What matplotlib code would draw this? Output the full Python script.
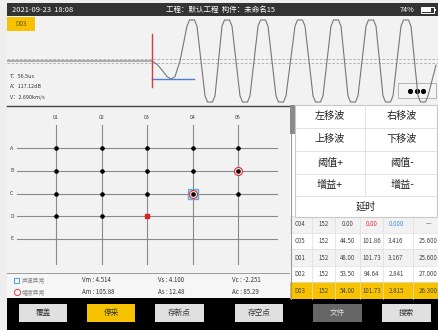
import matplotlib
matplotlib.use("Agg")
import matplotlib.pyplot as plt
from matplotlib.patches import Rectangle

plt.rcParams['font.family'] = ['Noto Sans CJK SC', 'DejaVu Sans']

W, H = 438, 330

# Waveform (x in screen samples, amplitude normalised to the clip level)
wave_x = [7, 152, 157, 162, 167, 171, 175, 180, 187, 189.5, 194.5, 197,
          205, 207.5, 212.5, 215, 222, 224.5, 229.5, 232,
          240, 242.5, 247.5, 250, 258, 260.5, 265.5, 268,
          276, 278.5, 283.5, 286, 295, 297.5, 302.5, 305,
          313, 315.5, 320.5, 323, 331, 333.5, 338.5, 341,
          348, 350.5, 355.5, 358, 366, 368.5, 373.5, 376,
          383, 385.5, 390.5, 393, 401, 403.5, 408.5, 411,
          418, 420.5, 425.5, 428, 436]
wave_amp = [0, 0, -0.08, -0.22, -0.38, -0.44, -0.38, 0.0, 0.85, 1, 1, 0.85,
            -0.85, -1, -1, -0.85, 0.85, 1, 1, 0.85,
            -0.85, -1, -1, -0.85, 0.85, 1, 1, 0.85,
            -0.85, -1, -1, -0.85, 0.85, 1, 1, 0.85,
            -0.85, -1, -1, -0.85, 0.85, 1, 1, 0.85,
            -0.85, -1, -1, -0.85, 0.85, 1, 1, 0.85,
            -0.85, -1, -1, -0.85, 0.85, 1, 1, 0.85,
            -0.85, -1, -1, -0.85, -0.1]
trigger_x = 152
threshold_amp = -0.44
threshold_end = 194
noise_band = 0.05

# Test point grid
grid_cols = ['01', '02', '03', '04', '06']
grid_rows = ['A', 'B', 'C', 'D', 'E']
# 0 none, 1 normal, 2 current (red), 3 amplitude abnormal, 4 velocity + amplitude abnormal
grid_status = [[1, 1, 1, 1, 1],
               [1, 1, 1, 1, 3],
               [1, 1, 1, 4, 1],
               [1, 1, 2, 0, 0],
               [0, 0, 0, 0, 0]]

# Result table
tbl_name = ['C04', 'C05', 'D01', 'D02', 'D03']
tbl_dist = ['152', '152', '152', '152', '152']
tbl_t = ['0.00', '44.50', '48.00', '53.50', '54.00']
tbl_a = ['0.00', '101.86', '101.73', '94.64', '101.73']
tbl_v = ['0.000', '3.416', '3.167', '2.841', '2.815']
tbl_f = ['—', '25.600', '25.600', '27.000', '26.300']

menu_items = [('左移波', '右移波'), ('上移波', '下移波'), ('阈值+', '阈值-'), ('增益+', '增益-')]
buttons = ['覆盖', '停采', '存新点', '存空点', '文件', '搜索']
stats = [('Vm : 4.514', 'Am : 105.88'), ('Vs : 4.100', 'As : 12.48'), ('Vc : -2.251', 'Ac : 85.29')]

YELLOW = '#f7c300'


def box(x0, y0, x1, y1):
    return [x0 / W, 1 - y1 / H, (x1 - x0) / W, (y1 - y0) / H]


fig = plt.figure(figsize=(W / 100, H / 100), dpi=100)
bg = fig.add_axes([0, 0, 1, 1])
bg.set_xlim(0, W)
bg.set_ylim(H, 0)
bg.axis('off')


def rect(x0, y0, x1, y1, fc, ec='none', lw=0, z=1):
    bg.add_patch(Rectangle((x0, y0), x1 - x0, y1 - y0, facecolor=fc, edgecolor=ec, linewidth=lw, zorder=z))


# frame + panels
rect(0, 0, W, H, '#eeeeee', z=0)
rect(7, 3, W, 16, '#333333')
rect(7, 16, W, 105, '#f2f2f2')
rect(7, 105, 290, 272, '#f2f2f2')
rect(7, 272, 290, 298, '#f6f6f6')
bg.plot([7, W], [105.5, 105.5], color='#444444', lw=1, zorder=2)
bg.plot([7, 290], [273, 273], color='#999999', lw=0.7, zorder=2)
rect(290, 105, W, 299, '#ffffff')
rect(7, 298, W, H, '#000000', z=1)

# status bar
bg.text(12, 10, '2021-09-23  18:08', color='white', fontsize=5.4, va='center', zorder=3)
bg.text(220, 10, '工程：默认工程  构件：未命名15', color='white', fontsize=5.4, va='center',
        ha='center', zorder=3)
bg.text(414, 10, '74%', color='white', fontsize=5.2, va='center', ha='right', zorder=3)
rect(421, 7, 434, 13, 'none', ec='white', lw=0.7, z=3)
rect(422, 8, 431, 12, 'white', z=3)
rect(434, 8.8, 435.5, 11.2, 'white', z=3)

# channel tag + readouts
rect(7, 17, 35, 31, YELLOW, z=3)
bg.text(21, 24, 'D03', fontsize=4.6, ha='center', va='center', color='#6b5200', zorder=4)
for yy, s in zip([77, 87, 97], ['T：56.5us', 'A：117.12dB', 'V：2.690km/s']):
    bg.text(10, yy, s, fontsize=3.9, va='center', color='#333333', zorder=4)

# waveform
wax = fig.add_axes(box(7, 16, W, 105))
wax.set_xlim(7, W)
wax.set_ylim((61 - 105) / 41, (61 - 16) / 41)
wax.axis('off')
wax.axhline(noise_band, color='#aaaaaa', lw=0.6, ls=(0, (3, 2)))
wax.axhline(-noise_band, color='#aaaaaa', lw=0.6, ls=(0, (3, 2)))
wax.plot(wave_x, wave_amp, color='#777777', lw=0.8)
wax.plot([trigger_x, threshold_end], [threshold_amp, threshold_amp], color='#4a7fd4', lw=1.0)
wax.plot([trigger_x, trigger_x], [(61 - 87) / 41, (61 - 34) / 41], color='#d04040', lw=1.0)

# more button
rect(398, 83, 436, 98, '#f4f4f4', ec='#aaaaaa', lw=0.6, z=3)
for dx in [410, 416.5, 423]:
    bg.plot(dx, 90.5, 'o', color='black', ms=2.7, zorder=4)

# grid of test points
gax = fig.add_axes(box(7, 106, 290, 272))
gax.set_xlim((7 - 56) / 45.5, (290 - 56) / 45.5)
gax.set_ylim((272 - 148) / 22.75, (106 - 148) / 22.75)
gax.axis('off')
nc, nr = len(grid_cols), len(grid_rows)
for j, r in enumerate(grid_rows):
    gax.plot([-0.86, nc - 0.14], [j, j], color='#8a8a8a', lw=0.8, zorder=1)
    gax.text(-0.97, j, r, fontsize=3.8, ha='center', va='center', color='#444444')
for i, c in enumerate(grid_cols):
    gax.plot([i, i], [-1.0, 5.1], color='#8a8a8a', lw=0.8, zorder=1)
    gax.text(i, -1.32, c, fontsize=3.8, ha='center', va='center', color='#444444')
for j in range(nr):
    for i in range(nc):
        s = grid_status[j][i]
        if s == 0:
            continue
        if s == 4:
            gax.plot(i, j, 's', ms=7, mfc='#f0d8e0', mec='#5ab0e0', mew=1.0, zorder=2)
        if s in (3, 4):
            gax.plot(i, j, 'o', ms=5.8, mfc='#fbeaea', mec='#e03030', mew=0.8, zorder=3)
        col = '#e02020' if s == 2 else 'black'
        gax.plot(i, j, 's' if s == 2 else 'o', ms=2.3, color=col, zorder=4)

# legend + statistics
rect(14, 277.5, 19, 282.5, 'none', ec='#4aa0dd', lw=0.7, z=3)
bg.plot(16.5, 292, 'o', ms=4.5, mfc='none', mec='#e04040', mew=0.7, zorder=3)
bg.text(22, 280, '声速异常', fontsize=4.2, va='center', color='#888888', zorder=3)
bg.text(22, 292, '幅度异常', fontsize=4.2, va='center', color='#888888', zorder=3)
for k, (top, bot) in enumerate(stats):
    x = [82, 158, 232][k]
    bg.text(x, 280, top, fontsize=4.4, va='center', color='#333333', zorder=3)
    bg.text(x, 292, bot, fontsize=4.4, va='center', color='#333333', zorder=3)

# result table
col_x = [300, 323.5, 347.5, 371.5, 396, 428]
col_sep = [312, 335, 360, 383, 413]
row_h = 16.6
for r in range(len(tbl_name)):
    y0 = 216 + r * row_h
    fc = YELLOW if r == len(tbl_name) - 1 else ('#f2f2f2' if r % 2 == 0 else '#ffffff')
    rect(290, y0, W, y0 + row_h, fc, z=2)
    bg.plot([290, W], [y0, y0], color='#dddddd', lw=0.5, zorder=2)
    for sx in col_sep:
        bg.plot([sx, sx], [y0, y0 + row_h], color='#dddddd', lw=0.5, zorder=2)
    vals = [tbl_name[r], tbl_dist[r], tbl_t[r], tbl_a[r], tbl_v[r], tbl_f[r]]
    cols = ['#444444'] * 6
    if r == 0:
        cols[3] = '#e03030'
        cols[4] = '#3a8fe0'
    for cx, v, cc in zip(col_x, vals, cols):
        bg.text(cx, y0 + row_h / 2, v, fontsize=4.4, ha='center', va='center', color=cc,
                zorder=3, clip_on=True)
bg.plot([290.5, 290.5], [105, 299], color='#999999', lw=0.8, zorder=3)
rect(290, 105, 294.5, 134, '#8a8a8a', z=3)

# popup menu
rect(295, 105, 437, 217, '#ffffff', ec='#c8c8c8', lw=0.8, z=5)
row_edges = [105, 127.5, 151, 174, 196, 217]
for k, (lt, rt) in enumerate(menu_items):
    yc = (row_edges[k] + row_edges[k + 1]) / 2
    bg.text(330, yc, lt, fontsize=7.3, ha='center', va='center', color='#222222', zorder=6)
    bg.text(402, yc, rt, fontsize=7.3, ha='center', va='center', color='#222222', zorder=6)
    bg.plot([365, 365], [row_edges[k], row_edges[k + 1]], color='#e2e2e2', lw=0.7, zorder=6)
    bg.plot([296, 436], [row_edges[k + 1], row_edges[k + 1]], color='#e2e2e2', lw=0.7, zorder=6)
bg.text(366, (row_edges[4] + row_edges[5]) / 2, '延时', fontsize=7.3, ha='center', va='center',
        color='#222222', zorder=6)

# bottom buttons
btn_x = [(19, 67), (87, 135), (155, 204), (235, 283), (313, 362), (382, 431)]
for (x0, x1), name in zip(btn_x, buttons):
    if name == '停采':
        fc, tc = YELLOW, '#333333'
    elif name == '文件':
        fc, tc = '#666666', '#dddddd'
    else:
        fc, tc = '#e0e0e0', '#333333'
    rect(x0, 304, x1, 322, fc, z=3)
    bg.text((x0 + x1) / 2, 313, name, fontsize=5.5, ha='center', va='center', color=tc, zorder=4)

fig.savefig('out.png', dpi=100)
